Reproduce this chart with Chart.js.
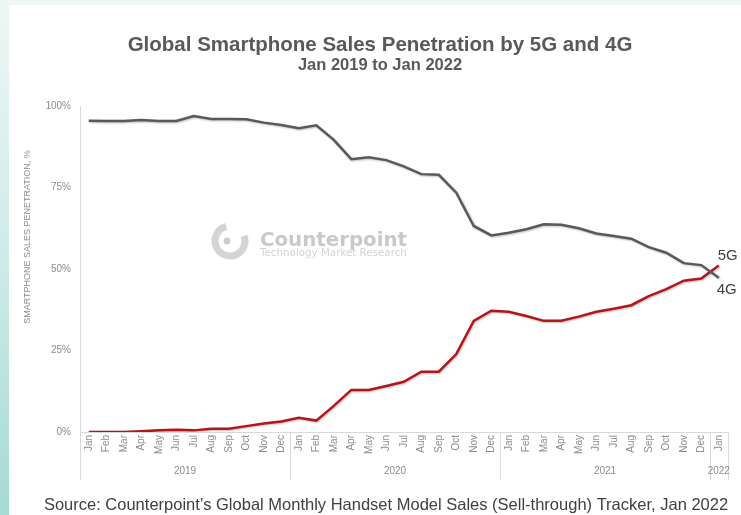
<!DOCTYPE html>
<html>
<head>
<meta charset="utf-8">
<title>Global Smartphone Sales Penetration by 5G and 4G</title>
<script src="https://cdn.jsdelivr.net/npm/chart.js@4.4.1/dist/chart.umd.min.js"></script>
<style>
  html, body { margin: 0; padding: 0; }
  body { width: 741px; height: 515px; position: relative; overflow: hidden; background: #fff; }
  .edge-top { position: absolute; left: 0; top: 0; width: 741px; height: 5px; background: #eef7f6; }
  .edge-left { position: absolute; left: 0; top: 0; width: 9px; height: 515px;
               background: linear-gradient(to bottom, #eef7f6 0%, #cfebe7 50%, #a6dad4 100%); }
  .wrap { position: absolute; left: 0; top: 0; width: 741px; height: 515px; }
</style>
</head>
<body>
<div class="edge-top"></div>
<div class="edge-left"></div>
<div class="wrap"><canvas id="penetrationChart"></canvas></div>
<script>
// months Jan 2019 .. Jan 2022
const monthLabels = [
  'Jan','Feb','Mar','Apr','May','Jun','Jul','Aug','Sep','Oct','Nov','Dec',
  'Jan','Feb','Mar','Apr','May','Jun','Jul','Aug','Sep','Oct','Nov','Dec',
  'Jan','Feb','Mar','Apr','May','Jun','Jul','Aug','Sep','Oct','Nov','Dec',
  'Jan'
];
const yearLabels = ['2019', '2020', '2021', '2022'];
const monthsPerYear = [12, 12, 12, 1];

// sales penetration, %
const share4G = [
  95.5, 95.4, 95.4, 95.7, 95.4, 95.4, 96.9, 96.0, 96.0, 95.9, 94.9, 94.2,
  93.2, 94.1, 89.6, 83.7, 84.3, 83.4, 81.5, 79.1, 78.9, 73.4, 63.2, 60.3,
  61.1, 62.2, 63.7, 63.6, 62.5, 60.9, 60.1, 59.3, 56.7, 55.0, 51.8, 51.2,
  47.3
];
const share5G = [
  0.0, 0.0, 0.0, 0.2, 0.5, 0.7, 0.5, 1.0, 1.0, 1.8, 2.6, 3.2,
  4.4, 3.5, 8.0, 12.9, 12.9, 14.1, 15.4, 18.5, 18.5, 23.9, 34.1, 37.2,
  36.9, 35.6, 34.1, 34.1, 35.4, 36.9, 37.8, 38.9, 41.7, 43.8, 46.4, 47.1,
  51.1
];
const yTicks = [0, 25, 50, 75, 100];

const AXIS_GREY = '#8c8c8c';
const LINE_GREY = '#d9d9d9';
const FONT = '"Liberation Sans", Arial, sans-serif';

// titles, year groups, end labels, watermark and source line
const decorations = {
  id: 'decorations',
  beforeDatasetsDraw(chart) {
    const ctx = chart.ctx;
    ctx.save();
    // watermark
    const cx = 230, cy = 241;
    ctx.strokeStyle = '#d4d4d4';
    ctx.lineWidth = 7;
    ctx.beginPath();
    ctx.arc(cx, cy, 15, -0.35, Math.PI * 1.42);
    ctx.stroke();
    ctx.fillStyle = '#cdcdcd';
    ctx.beginPath();
    ctx.arc(cx - 3, cy, 3.5, 0, Math.PI * 2);
    ctx.fill();

    ctx.textAlign = 'left';
    ctx.textBaseline = 'alphabetic';
    ctx.fillStyle = '#c9c9c9';
    ctx.font = 'bold 20px "DejaVu Sans"';
    let w = ctx.measureText('Counterpoint').width;
    ctx.font = 'bold ' + (20 * 147 / w).toFixed(1) + 'px "DejaVu Sans"';
    ctx.fillText('Counterpoint', 260, 246);
    ctx.fillStyle = '#d3d3d3';
    ctx.font = '10px "DejaVu Sans"';
    w = ctx.measureText('Technology Market Research').width;
    ctx.font = (10 * 147 / w).toFixed(1) + 'px "DejaVu Sans"';
    ctx.fillText('Technology Market Research', 260, 256);
    ctx.restore();
  },
  beforeDatasetDraw(chart) {
    const ctx = chart.ctx;
    ctx.save();
    ctx.shadowColor = 'rgba(0,0,0,0.25)';
    ctx.shadowBlur = 2;
    ctx.shadowOffsetX = 1;
    ctx.shadowOffsetY = 1;
  },
  afterDatasetDraw(chart) {
    chart.ctx.restore();
  },
  afterDraw(chart) {
    const ctx = chart.ctx;
    const x = chart.scales.x;
    const area = chart.chartArea;
    ctx.save();

    // year group separators and labels under the month ticks
    const step = x.getPixelForValue(1) - x.getPixelForValue(0);
    ctx.strokeStyle = LINE_GREY;
    ctx.lineWidth = 1;
    ctx.fillStyle = AXIS_GREY;
    ctx.font = '10px ' + FONT;
    ctx.textAlign = 'center';
    ctx.textBaseline = 'middle';
    let start = 0;
    monthsPerYear.forEach((n, i) => {
      const left = x.getPixelForValue(start) - step / 2;
      const right = x.getPixelForValue(start + n - 1) + step / 2;
      [left, right].forEach(px => {
        ctx.beginPath();
        ctx.moveTo(Math.round(px) + 0.5, area.bottom);
        ctx.lineTo(Math.round(px) + 0.5, area.bottom + 48);
        ctx.stroke();
      });
      ctx.fillText(yearLabels[i], (left + right) / 2, area.bottom + 39);
      start += n;
    });

    // y axis title
    ctx.save();
    ctx.translate(28, 237);
    ctx.rotate(-Math.PI / 2);
    ctx.font = '9px ' + FONT;
    ctx.fillText('SMARTPHONE SALES PENETRATION, %', 0, 0);
    ctx.restore();

    // series labels at the line ends
    const last = monthLabels.length - 1;
    const y = chart.scales.y;
    const xe = x.getPixelForValue(last);
    ctx.fillStyle = '#404040';
    ctx.font = '15px ' + FONT;
    ctx.textAlign = 'center';
    ctx.fillText('5G', xe + 9, y.getPixelForValue(share5G[last]) - 10);
    ctx.fillText('4G', xe + 8, y.getPixelForValue(share4G[last]) + 12);

    // titles
    ctx.fillStyle = '#595959';
    ctx.textBaseline = 'alphabetic';
    ctx.font = 'bold 20.5px ' + FONT;
    ctx.fillText('Global Smartphone Sales Penetration by 5G and 4G', 380, 51);
    ctx.font = 'bold 16.5px ' + FONT;
    ctx.fillText('Jan 2019 to Jan 2022', 380, 70);

    // source line
    ctx.fillStyle = '#404040';
    ctx.font = '16.5px ' + FONT;
    ctx.fillText('Source: Counterpoint\u2019s Global Monthly Handset Model Sales (Sell-through) Tracker, Jan 2022', 386, 510);
    ctx.restore();
  }
};

new Chart(document.getElementById('penetrationChart'), {
  type: 'line',
  data: {
    labels: monthLabels,
    datasets: [
      {
        label: '4G',
        data: share4G,
        borderColor: '#595959',
        borderWidth: 2.5,
        pointRadius: 0,
        tension: 0
      },
      {
        label: '5G',
        data: share5G,
        borderColor: '#b3161a',
        borderWidth: 2.5,
        pointRadius: 0,
        tension: 0
      }
    ]
  },
  options: {
    responsive: true,
    maintainAspectRatio: false,
    animation: false,
    layout: { padding: { left: 0, right: 13.5, top: 106, bottom: 0 } },
    plugins: {
      legend: { display: false },
      tooltip: { enabled: false }
    },
    scales: {
      x: {
        offset: true,
        grid: { display: false, drawTicks: false },
        border: { display: true, color: LINE_GREY },
        ticks: {
          autoSkip: false,
          maxRotation: 90,
          minRotation: 90,
          padding: 3,
          color: AXIS_GREY,
          font: { family: FONT, size: 10 }
        },
        afterFit(scale) { scale.height = 83; }
      },
      y: {
        min: 0,
        max: 100,
        afterBuildTicks(scale) { scale.ticks = yTicks.map(v => ({ value: v })); },
        grid: { display: false, drawTicks: false },
        border: { display: true, color: LINE_GREY },
        ticks: {
          padding: 9,
          color: AXIS_GREY,
          font: { family: FONT, size: 10 },
          callback: v => v + '%'
        },
        afterFit(scale) { scale.width = 80; }
      }
    }
  },
  plugins: [decorations]
});
</script>
</body>
</html>
